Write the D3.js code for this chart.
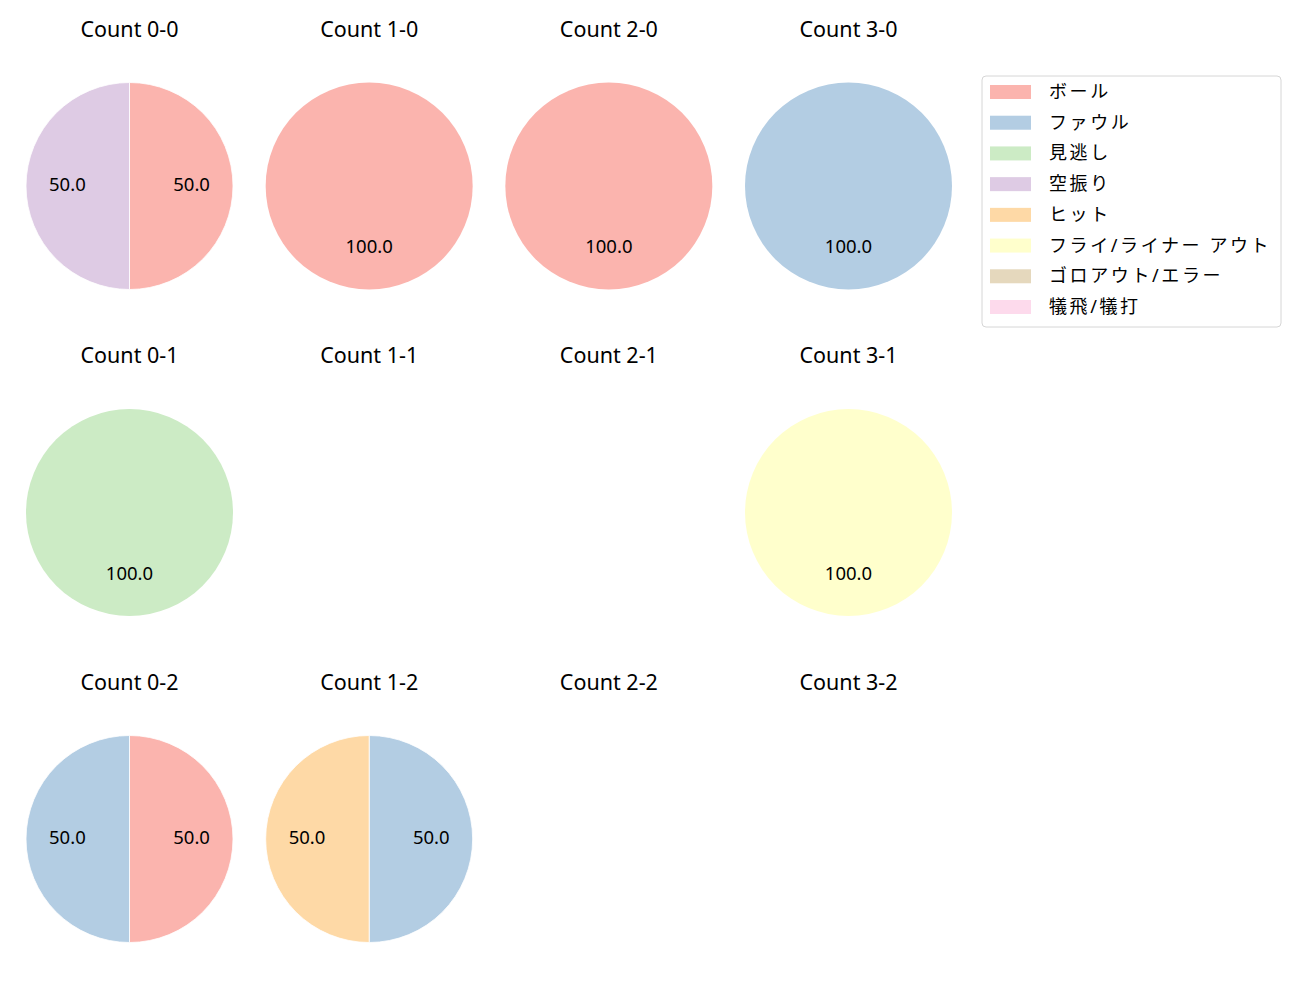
<!DOCTYPE html>
<html>
<head>
<meta charset="utf-8">
<script src="https://cdn.jsdelivr.net/npm/d3@7"></script>
<style>
  body { margin: 0; background: #fff; }
  text { font-family: "Noto Sans", "Noto Sans CJK JP", sans-serif; fill: #000; }
</style>
</head>
<body>
<div id="chart"></div>
<script>
// 結果カテゴリ
const categories = ['ボール', 'ファウル', '見逃し', '空振り', 'ヒット', 'フライ/ライナー アウト', 'ゴロアウト/エラー', '犠飛/犠打'];
const colors = ['#fbb4ae', '#b3cde3', '#ccebc5', '#decbe4', '#fed9a6', '#ffffcc', '#e5d8bd', '#fddaec'];

// カウント名（行 = ストライク, 列 = ボール）
const balls = [0, 1, 2, 3];
const strikes = [0, 1, 2];

// 各カウントの割合（カテゴリ順）
const count00 = [50, 0, 0, 50, 0, 0, 0, 0];
const count10 = [100, 0, 0, 0, 0, 0, 0, 0];
const count20 = [100, 0, 0, 0, 0, 0, 0, 0];
const count30 = [0, 100, 0, 0, 0, 0, 0, 0];
const count01 = [0, 0, 100, 0, 0, 0, 0, 0];
const count11 = [0, 0, 0, 0, 0, 0, 0, 0];
const count21 = [0, 0, 0, 0, 0, 0, 0, 0];
const count31 = [0, 0, 0, 0, 0, 100, 0, 0];
const count02 = [50, 50, 0, 0, 0, 0, 0, 0];
const count12 = [0, 50, 0, 0, 50, 0, 0, 0];
const count22 = [0, 0, 0, 0, 0, 0, 0, 0];
const count32 = [0, 0, 0, 0, 0, 0, 0, 0];

const countValues = [
    [count00, count10, count20, count30],
    [count01, count11, count21, count31],
    [count02, count12, count22, count32]
];

let svg = d3.select('#chart').append('svg').attr('width', 1300).attr('height', 1000);

// グリッド位置
let xScale = d3.scalePoint().domain(balls).range([129.5, 848.5]);
let yScale = d3.scalePoint().domain(strikes).range([186, 839]);
let radius = 103.5;

let color = d3.scaleOrdinal().domain(categories).range(colors);

// 時計回り、12時スタート
let pie = d3.pie().sort(null).value(d => d.value);
let arc = d3.arc().innerRadius(0).outerRadius(radius);

strikes.forEach((s, si) => {
    balls.forEach((b, bi) => {
        let cx = xScale(b), cy = yScale(s);
        let g = svg.append('g').attr('transform', `translate(${cx},${cy})`);

        g.append('text')
            .attr('y', -158)
            .attr('text-anchor', 'middle')
            .attr('dominant-baseline', 'central')
            .style('font-size', '21.5px')
            .text(`Count ${b}-${s}`);

        let vals = countValues[si][bi];
        let data = categories.map((c, i) => ({ cat: c, value: vals[i] })).filter(d => d.value > 0);
        if (data.length === 0) return;

        let arcs = pie(data);
        g.selectAll('path').data(arcs).enter().append('path')
            .attr('d', arc)
            .attr('fill', d => color(d.data.cat))
            .attr('stroke', data.length > 1 ? '#fff' : 'none')
            .attr('stroke-width', 0.8);

        g.selectAll('.lbl').data(arcs).enter().append('text')
            .attr('class', 'lbl')
            .attr('transform', d => {
                let a = (d.startAngle + d.endAngle) / 2;
                return `translate(${Math.sin(a) * radius * 0.6},${-Math.cos(a) * radius * 0.6 - 2.5})`;
            })
            .attr('text-anchor', 'middle')
            .attr('dominant-baseline', 'central')
            .style('font-size', '18.5px')
            .text(d => d.data.value.toFixed(1));
    });
});

// 凡例
let legend = svg.append('g').attr('transform', 'translate(982,76)');
legend.append('rect')
    .attr('width', 299).attr('height', 251)
    .attr('rx', 4)
    .attr('fill', '#fff')
    .attr('stroke', '#d6d6d6');

let legendY = d3.scaleLinear().domain([0, categories.length - 1]).range([16, 231]);
let items = legend.selectAll('.item').data(categories).enter().append('g')
    .attr('transform', (d, i) => `translate(0,${legendY(i)})`);
items.append('rect')
    .attr('x', 8).attr('y', -7)
    .attr('width', 41).attr('height', 14)
    .attr('fill', d => color(d));
items.append('text')
    .attr('x', 67)
    .attr('y', -1)
    .attr('dominant-baseline', 'central')
    .style('font-size', '18px')
    .style('letter-spacing', '2.6px')
    .text(d => d);
</script>
</body>
</html>
